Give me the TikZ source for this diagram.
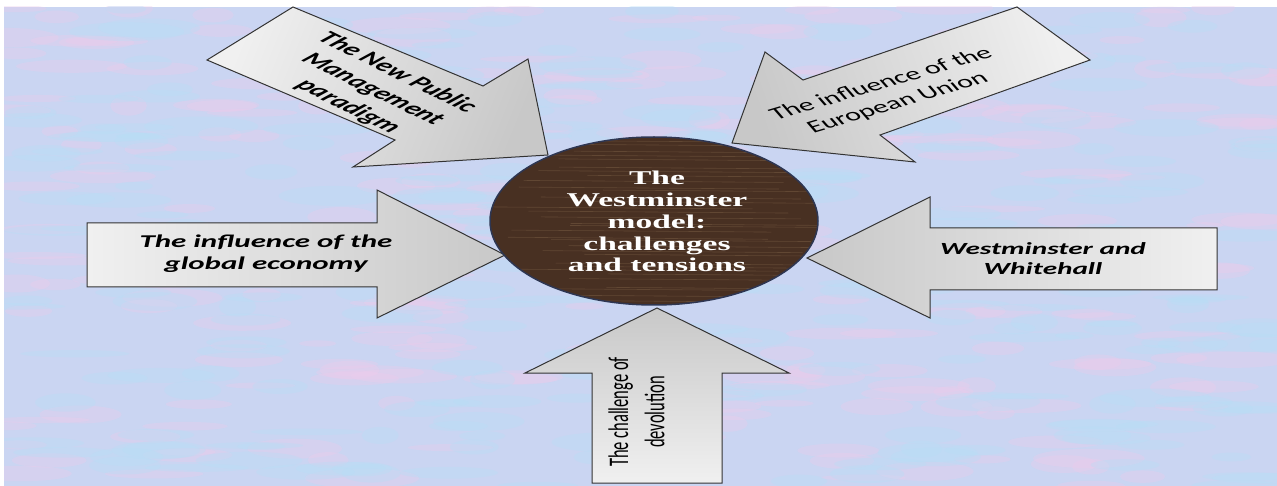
\documentclass[tikz,border=0pt]{standalone}
\usepackage{fontspec}
\usepackage{tikz}
\newfontfamily\calibfont{Carlito}
\newfontfamily\titlefont{Liberation Serif}
\definecolor{paper}{RGB}{202,213,242}
\definecolor{pinkmist}{RGB}{236,204,236}
\definecolor{bluemist}{RGB}{184,222,246}
\definecolor{arrowlight}{RGB}{240,240,240}
\definecolor{arrowdark}{RGB}{200,200,200}
\definecolor{wood}{RGB}{72,48,34}
\definecolor{grainline}{RGB}{128,100,72}
\definecolor{rimblue}{RGB}{46,54,82}
\newcommand{\xwide}[1]{\scalebox{1.72}[1]{#1}}

\begin{document}
\begin{tikzpicture}[
    x=1pt,
    y=-1pt,
    mist/.style={opacity=0.35},
    blockarrow/.style={draw=black!80, line width=1pt, line join=miter, top color=arrowlight, bottom color=arrowdark},
    arrowtext/.style={inner sep=0pt, font=\calibfont\bfseries\itshape\fontsize{18}{22}\selectfont},
    plaintext/.style={inner sep=0pt, font=\calibfont\fontsize{17.5}{21}\selectfont},
    grain/.style={draw=grainline, line width=0.6pt, opacity=0.45},
    coretext/.style={inner sep=0pt, text=white, font=\titlefont\bfseries\fontsize{19.5}{21.8}\selectfont}
  ]
  \useasboundingbox (0,0) rectangle (1277,486);
  \fill[paper] (4,7) rectangle (1277,486);

  %
  \begin{scope}
    \clip (4,7) rectangle (1277,486);
    \pgfmathsetseed{11}
    \foreach \i in {1,...,260} {
      \pgfmathsetmacro{\px}{4+1273*rnd}
      \pgfmathsetmacro{\py}{7+479*rnd}
      \pgfmathsetmacro{\rx}{18+40*rnd}
      \pgfmathsetmacro{\ry}{3+7*rnd}
      \fill[pinkmist, mist] (\px,\py) ellipse [x radius=\rx, y radius=\ry];
    }
    \foreach \i in {1,...,260} {
      \pgfmathsetmacro{\px}{4+1273*rnd}
      \pgfmathsetmacro{\py}{7+479*rnd}
      \pgfmathsetmacro{\rx}{18+40*rnd}
      \pgfmathsetmacro{\ry}{3+7*rnd}
      \fill[bluemist, mist] (\px,\py) ellipse [x radius=\rx, y radius=\ry];
    }
  \end{scope}

  %
  \path[blockarrow, shading angle=90] (87,223) -- (377,223) -- (377,190) -- (505,255)
    -- (377,318) -- (377,287) -- (87,287) -- cycle;
  \path[blockarrow, shading angle=270] (1217,228) -- (930,228) -- (930,197) -- (807,258)
    -- (930,318) -- (930,290) -- (1217,290) -- cycle;
  \path[blockarrow, shading angle=180] (592,483) -- (592,373) -- (525,373) -- (657,308)
    -- (789,373) -- (722,373) -- (722,483) -- cycle;
  \path[blockarrow, shading angle=68] (293,7) -- (483,86) -- (528,59) -- (548,155)
    -- (353,167) -- (395,140) -- (207,60) -- cycle;
  \path[blockarrow, shading angle=289] (1017,7) -- (1090,60) -- (880,135) -- (915,162)
    -- (732,143) -- (765,52) -- (803,80) -- cycle;

  %
  \coordinate (hub) at (654,221);
  \fill[wood] (hub) ellipse [x radius=164, y radius=84];
  \begin{scope}
    \clip (hub) ellipse [x radius=164, y radius=84];
    \pgfmathsetseed{5}
    \foreach \y in {141,146,...,306} {
      \pgfmathsetmacro{\dy}{5*rnd-2.5}
      \pgfmathsetmacro{\gx}{488+120*rnd}
      \draw[grain] (\gx,\y+\dy) -- (\gx+260,\y+\dy+2);
    }
  \end{scope}
  \draw[rimblue, line width=1.5pt] (hub) ellipse [x radius=164, y radius=84];

  %
  \node[coretext] (coretitle) at (657,224) {\xwide{\begin{tabular}{@{}c@{}}The\\Westminster\\model:\\challenges\\and tensions\end{tabular}}};
  \node[arrowtext] (globaltext) at (266,254) {\xwide{\begin{tabular}{@{}c@{}}The influence of the\\global economy\end{tabular}}};
  \node[arrowtext, font=\calibfont\bfseries\itshape\fontsize{17}{20}\selectfont] (whitehalltext) at (1043,261) {\xwide{\begin{tabular}{@{}c@{}}Westminster and\\Whitehall\end{tabular}}};
  \node[arrowtext] (npmtext) at (372,90) {\xwide{\rotatebox{-40}{\begin{tabular}{@{}c@{}}The New Public\\Management\\paradigm\end{tabular}}}};
  \node[plaintext] (eutext) at (890,94) {\xwide{\rotatebox{27}{\begin{tabular}{@{}c@{}}The influence of the\\European Union\end{tabular}}}};
  \node[plaintext, font=\calibfont\fontsize{16.5}{21}\selectfont] (devotext) at (639,412) {\xwide{\rotatebox{90}{\begin{tabular}{@{}c@{}}The challenge of\\devolution\end{tabular}}}};
\end{tikzpicture}
\end{document}
